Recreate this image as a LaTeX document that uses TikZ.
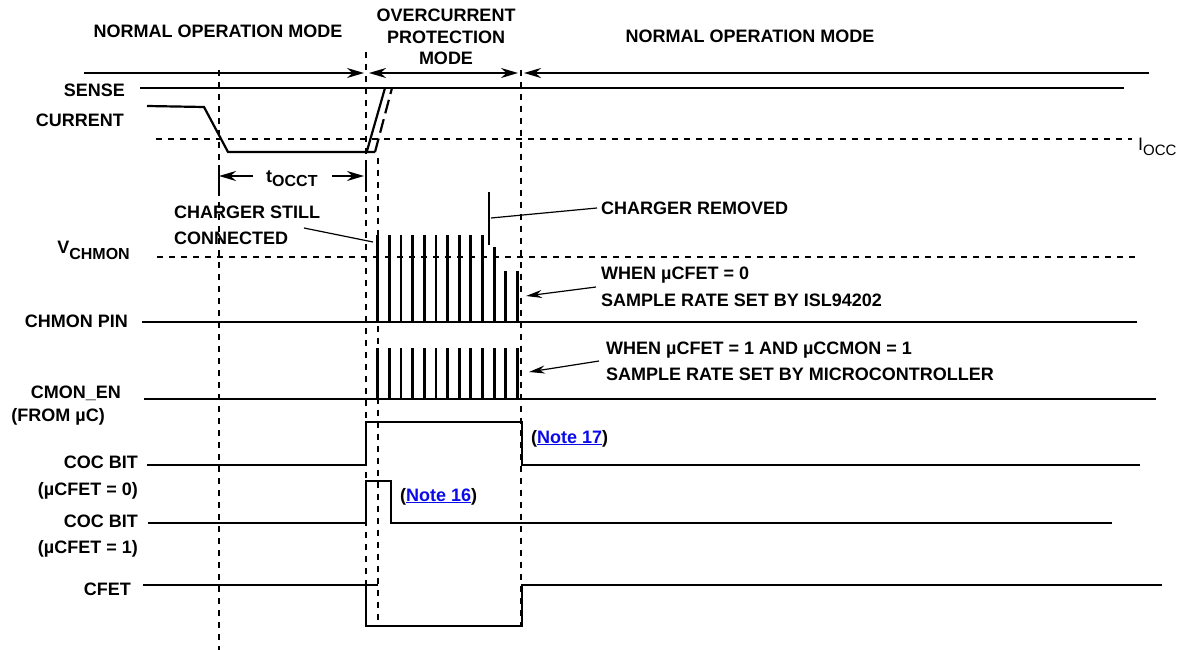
\documentclass[tikz,border=0pt]{standalone}
\usepackage{fontspec}
\setmainfont{Liberation Sans}
\usetikzlibrary{arrows.meta, positioning}
\definecolor{linkblue}{RGB}{10,10,235}
\tikzset{x=1pt, y=-1pt,
         lbl/.style={font=\bfseries\fontsize{18}{21.5}\selectfont, inner sep=0pt},
         sig/.style={lbl, anchor=base east},
         txt/.style={lbl, anchor=base west},
         guide/.style={line width=1.8pt, dash pattern=on 6pt off 6pt},
         wave/.style={line width=2.6pt},
         sensewave/.style={line width=2.2pt},
         pulse/.style={line width=2.8pt},
         modeline/.style={line width=1.8pt, -{Stealth[length=17pt, width=10pt]}},
         leader/.style={line width=1.2pt},
         pointer/.style={leader, -{Stealth[length=16pt, width=8pt]}},
         }

\begin{document}
\begin{tikzpicture}
    \useasboundingbox (0,0) rectangle (1185,650);

    % mode headings
    \node[lbl, anchor=base] (normA) at (218,38) {NORMAL OPERATION MODE};
    \node[lbl, anchor=north, align=center] (ocp) at (446,9) {OVERCURRENT\\PROTECTION\\MODE};
    \node[lbl, anchor=base] (normB) at (750,43) {NORMAL OPERATION MODE};

    \coordinate (mL) at (84,73);
    \coordinate (m1) at (364,73);
    \coordinate (m2) at (369,73);
    \coordinate (mC) at (446,73);
    \coordinate (m3) at (518,73);
    \coordinate (m4) at (524,73);
    \coordinate (mR) at (1149,73);
    \draw[modeline] (mL) -- (m1);
    \draw[modeline] (mC) -- (m2);
    \draw[modeline] (mC) -- (m3);
    \draw[modeline] (mR) -- (m4);

    % timing guides
    \draw[guide] (219,70) -- (219,650);
    \draw[guide] (366,52) -- (366,626);
    \draw[guide] (377.7,158) -- (377.7,626);
    \draw[guide] (521,70) -- (521,626);
    \draw[guide] (156,139) -- (1132,139);
    \draw[guide] (157,257) -- (1137,257);

    % signal names
    \node[sig] (sense) at (125,97) {SENSE};
    \node[sig] (current) at (124,127) {CURRENT};
    \node[sig] (vchmon) at (130,253) {V\raisebox{-6pt}{\fontsize{16}{16}\selectfont CHMON}};
    \node[sig] (chmon) at (128,327) {CHMON PIN};
    \node[sig] (cmonen) at (121,398) {CMON\_EN};
    \node[sig] (fromuc) at (105,421) {(FROM µC)};
    \node[sig] (cocA) at (138,468) {COC BIT};
    \node[sig] (cfetA) at (138,495) {(µCFET = 0)};
    \node[sig] (cocB) at (138,527) {COC BIT};
    \node[sig] (cfetB) at (138,553) {(µCFET = 1)};
    \node[sig] (cfet) at (131,595) {CFET};
    \node[anchor=base west, inner sep=0pt, font=\fontsize{18}{21.5}\selectfont] (iocc) at (1138,150) {I\raisebox{-5pt}{\fontsize{15}{15}\selectfont OCC}};

    % sense current
    \draw[sensewave] (140,88) -- (1124,88);
    \draw[sensewave] (147,106) -- (204,107) -- (228,152) -- (375,152);
    \draw[sensewave] (366.7,152) -- (385,88);
    \draw[sensewave, dash pattern=on 14pt off 6pt] (375,152) -- (392,88);

    % t_OCCT
    \node[txt] (tocct) at (266,182) {t\raisebox{-4pt}{\fontsize{16}{16}\selectfont OCCT}};
    \coordinate (dL) at (219,176);
    \coordinate (dLt) at (253,176);
    \coordinate (dR) at (364,176);
    \coordinate (dRt) at (332,176);
    \draw[leader] (219,165) -- (219,192);
    \draw[leader] (366,165) -- (366,192);
    \draw[modeline] (dLt) -- (dL);
    \draw[modeline] (dRt) -- (dR);

    % CHMON pin
    \draw[wave] (142,322) -- (1137,322);
    \foreach \tp [count=\i from 0] in {235,235,235,235,235,235,235,235,235,235,247,271,271}
        \draw[pulse] (377.7+11.64*\i,322) -- (377.7+11.64*\i,\tp);
    \draw[line width=1.6pt] (489,192) -- (489,245);

    \node[txt] (still) at (174,218) {CHARGER STILL};
    \node[txt] (connected) at (174,244) {CONNECTED};
    \coordinate (stillA) at (304,228);
    \coordinate (stillB) at (373,242);
    \draw[leader] (stillA) -- (stillB);

    \node[txt] (removed) at (601,214) {CHARGER REMOVED};
    \coordinate (remA) at (491,218);
    \coordinate (remB) at (597,208);
    \draw[leader] (remA) -- (remB);

    \node[txt] (whenA) at (601,279) {WHEN µCFET = 0};
    \node[txt] (rateA) at (601,306) {SAMPLE RATE SET BY ISL94202};
    \coordinate (ptA) at (596,287);
    \coordinate (ptAt) at (526,296);
    \draw[pointer] (ptA) -- (ptAt);

    % CMON_EN
    \draw[wave] (144,399) -- (1156,399);
    \foreach \i in {0,...,12}
        \draw[pulse] (377.7+11.64*\i,399) -- ++(0,-51);

    \node[txt] (whenB) at (606,354) {WHEN µCFET = 1 AND µCCMON = 1};
    \node[txt] (rateB) at (606,380) {SAMPLE RATE SET BY MICROCONTROLLER};
    \coordinate (ptB) at (599,361);
    \coordinate (ptBt) at (529,372);
    \draw[pointer] (ptB) -- (ptBt);

    % COC bits and CFET
    \draw[wave] (147,465) -- (366,465) -- (366,422) -- (522,422) -- (522,465) -- (1140,465);
    \draw[wave] (148,523) -- (366,523) -- (366,481) -- (391,481) -- (391,523) -- (1112,523);
    \draw[wave] (143,585) -- (378,585);
    \draw[wave] (366,585) -- (366,626) -- (522,626) -- (522,585) -- (1162,585);

    \node[txt] (noteB) at (531,443) {(\textcolor{linkblue}{\underline{Note 17}})};
    \node[txt] (noteA) at (400,501) {(\textcolor{linkblue}{\underline{Note 16}})};
\end{tikzpicture}
\end{document}
